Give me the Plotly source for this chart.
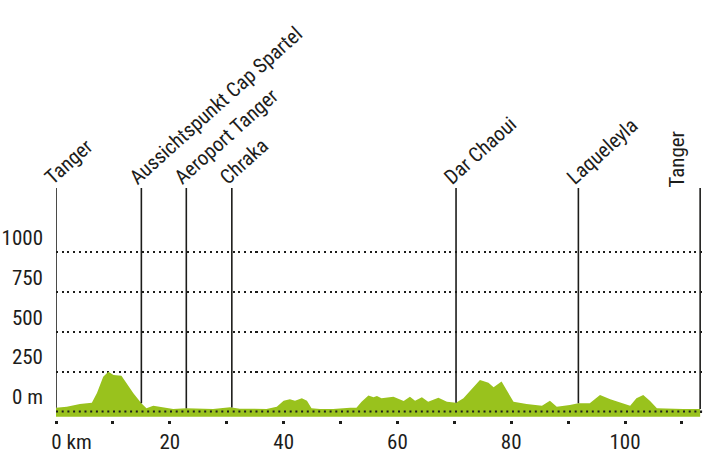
import numpy as np
import plotly.graph_objects as go

# ---- data ----
profile_km = [0, 1.9, 4.2, 6.3, 7.2, 8.3, 9.2, 10.1, 11.5, 12.4,
              13.6, 15.0, 15.9, 17.1, 18.9, 20.6, 22.9, 25.3, 27.6, 30.6,
              32.3, 37.0, 38.8, 40.0, 41.1, 42.0, 43.2, 44.1, 44.9, 46.4,
              48.7, 51.7, 52.8, 53.7, 54.9, 55.8, 56.4, 57.2, 59.3, 61.1,
              62.2, 63.1, 64.3, 65.4, 67.2, 68.7, 70.3, 71.6, 73.1, 74.5,
              76.0, 76.9, 78.3, 79.2, 80.4, 82.7, 85.4, 86.8, 88.0, 90.3,
              91.8, 93.8, 95.6, 97.4, 100.9, 102.0, 103.2, 104.4, 105.6, 110.2,
              113.2]
profile_elev = [24, 30, 47, 55, 116, 219, 250, 230, 225, 177,
                114, 52, 20, 36, 24, 16, 20, 16, 16, 26,
                18, 16, 30, 68, 77, 68, 83, 68, 20, 16,
                16, 24, 24, 62, 100, 90, 98, 83, 93, 66,
                93, 68, 90, 62, 87, 62, 55, 83, 146, 198,
                181, 152, 188, 135, 62, 47, 36, 68, 30, 41,
                52, 52, 104, 77, 36, 83, 104, 66, 20, 16,
                16]

place_names = ["Tanger", "Aussichtspunkt Cap Spartel", "Aeroport Tanger", "Chraka",
               "Dar Chaoui", "Laqueleyla", "Tanger"]
place_km = [0, 15.0, 22.9, 30.9, 70.3, 91.8, 113.2]

y_tickvals = [0, 250, 500, 750, 1000]
y_ticktext = ["0 m", "250", "500", "750", "1000"]
x_tickvals = [0, 10, 20, 30, 40, 50, 60, 70, 80, 90, 100, 110]
x_ticktext = ["\u2007\u2007\u20070 km", "", "20", "", "40", "", "60", "", "80", "", "100", ""]

# ---- style ----
FONT = "Roboto Condensed, Liberation Sans, sans-serif"
GREEN = "#99C21D"
INK = "#1d1d1b"
FILL_BASE = -33
LINE_TOP = 1404

fig = go.Figure()

fig.add_trace(go.Scatter(x=profile_km, y=[FILL_BASE] * len(profile_km), mode="lines",
                         line=dict(width=0, color=GREEN), hoverinfo="skip", showlegend=False))
fig.add_trace(go.Scatter(x=profile_km, y=profile_elev, mode="lines", fill="tonexty",
                         fillcolor=GREEN, line=dict(width=0, color=GREEN), showlegend=False))

for name, k in zip(place_names, place_km):
    e = float(np.interp(k, profile_km, profile_elev))
    fig.add_trace(go.Scatter(x=[k, k], y=[e, LINE_TOP], mode="lines",
                             line=dict(color=INK, width=1.6), hoverinfo="skip", showlegend=False))

for i, (name, k) in enumerate(zip(place_names, place_km)):
    if i == len(place_names) - 1:
        fig.add_annotation(x=k, y=LINE_TOP, text=name, showarrow=False, textangle=-90,
                           xanchor="right", yanchor="bottom", xshift=-9, yshift=-2,
                           font=dict(family=FONT, size=21, color=INK))
    else:
        fig.add_annotation(x=k, y=LINE_TOP, text=name, showarrow=False, textangle=-42,
                           xanchor="left", yanchor="bottom", xshift=-19, yshift=-4,
                           font=dict(family=FONT, size=20.5, color=INK))

fig.add_shape(type="line", xref="paper", x0=0, x1=1, yref="y", y0=0, y1=0,
              line=dict(color=INK, width=2.2, dash="2px,3.7px"), layer="above")

fig.update_layout(
    width=712, height=455,
    margin=dict(l=56, r=9, t=0, b=35),
    paper_bgcolor="white", plot_bgcolor="white",
    font=dict(family=FONT, size=21, color=INK),
    xaxis=dict(range=[0, 113.7], tickvals=x_tickvals, ticktext=x_ticktext,
               ticks="outside", ticklen=3, tickwidth=3, tickcolor=INK,
               showgrid=False, zeroline=False, showline=False, automargin=False,
               tickfont=dict(family=FONT, size=21, color=INK)),
    yaxis=dict(range=[-53.4, 2584.6], tickvals=y_tickvals, ticktext=y_ticktext,
               showgrid=True, gridcolor=INK, gridwidth=2.2, griddash="2px,3.7px",
               zeroline=False, showline=False, ticks="", automargin=False,
               ticklabelposition="outside top", ticklabelstandoff=12,
               tickfont=dict(family=FONT, size=21, color=INK)),
)

fig.write_html("out.html", config={"displayModeBar": False},
               post_script="document.body.style.margin='0';document.body.style.overflow='hidden';")
